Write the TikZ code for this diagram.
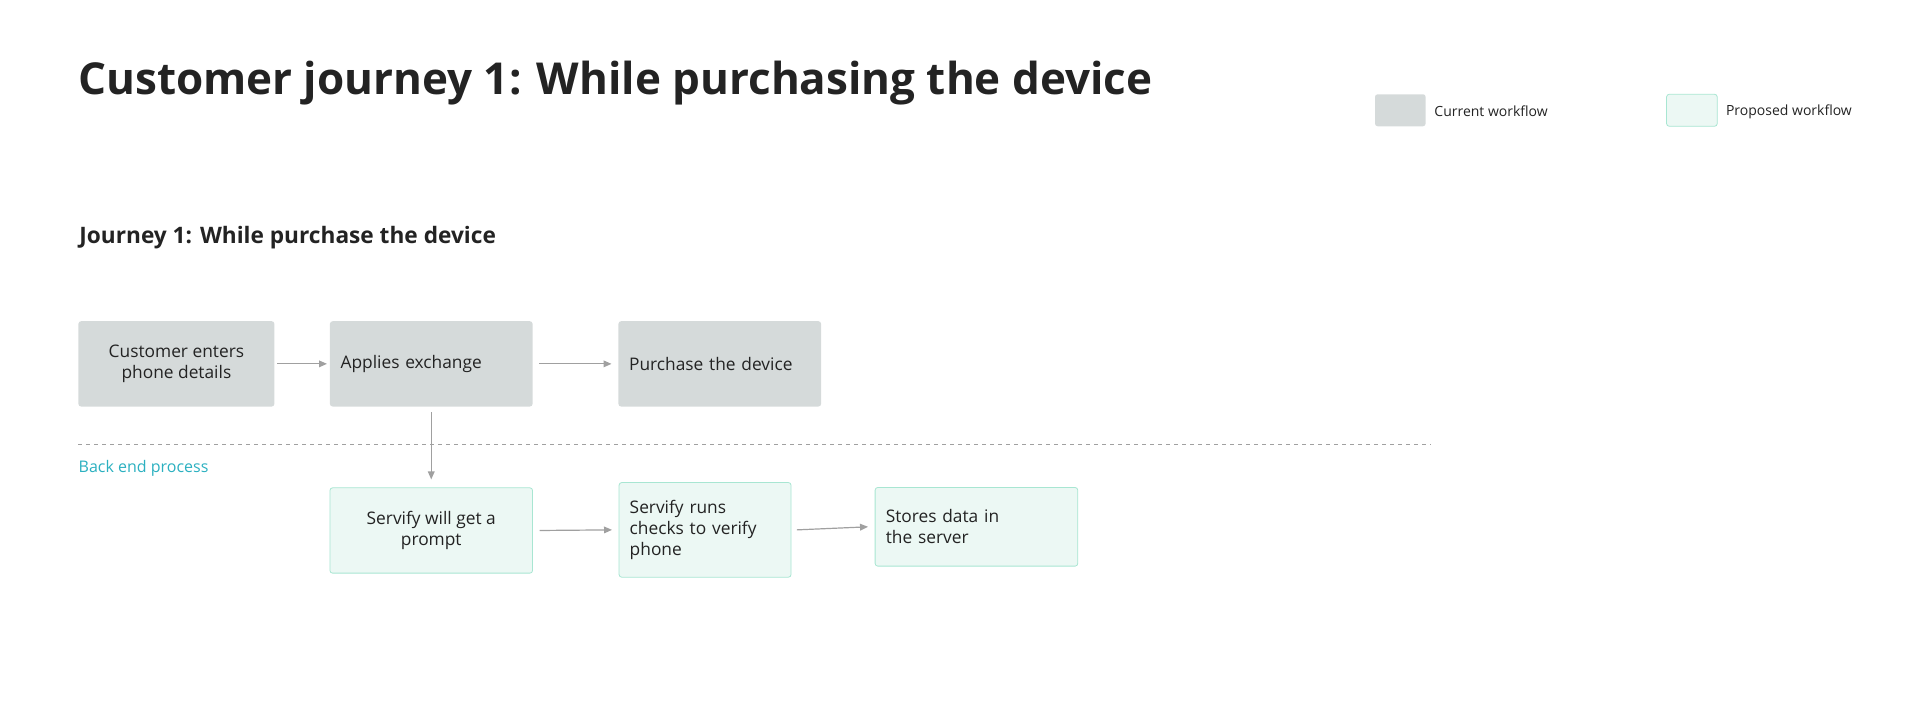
\documentclass[tikz,border=0pt]{standalone}
\usepackage{fontspec}
\setmainfont{Open Sans}
\usetikzlibrary{arrows.meta}
\definecolor{cur}{HTML}{D5DADA}
\definecolor{prop}{HTML}{ECF8F4}
\definecolor{propb}{HTML}{A8E6D2}
\definecolor{arr}{HTML}{A0A0A0}
\definecolor{teal}{HTML}{2BB0C0}
\definecolor{ink}{HTML}{232323}
\begin{document}
\begin{tikzpicture}[x=0.919pt,y=-0.919pt,
  box/.style={draw=none,fill=cur,rounded corners=2pt,font=\fontsize{13}{16}\selectfont,text=ink,inner sep=0pt},
  pbox/.style={fill=prop,draw=propb,line width=0.6pt,rounded corners=2pt,font=\fontsize{13}{16}\selectfont,text=ink,inner sep=0pt},
  ar/.style={draw=arr,line width=0.9pt,-{Triangle[length=6pt,width=5pt]}},
  leg/.style={font=\fontsize{10.5}{12}\selectfont,text=ink,anchor=west}]
\useasboundingbox (0,0) rectangle (1568,572);
\node[anchor=west,font=\fontsize{33}{38}\selectfont\bfseries,text=ink] (title) at (60,68) {Customer journey 1: While purchasing the device};
\node[anchor=west,font=\fontsize{17}{20}\selectfont\bfseries,text=ink] (sub) at (61,194) {Journey 1: While purchase the device};
% legend
\node[box,minimum width=38pt,minimum height=24pt] (lg1) at (1143,90) {};
\node[leg] (lt1) at (1167,91) {Current workflow};
\node[pbox,minimum width=38pt,minimum height=24pt] (lg2) at (1381,90) {};
\node[leg] (lt2) at (1405,91) {Proposed workflow};
% top boxes
\node[box,minimum width=147pt,minimum height=64pt,align=center] (a) at (144,297) {Customer enters\\phone details};
\node[box,minimum width=152pt,minimum height=64pt,text width=136pt,align=left] (b) at (352,297) {Applies exchange};
\node[box,minimum width=152pt,minimum height=64pt,text width=136pt,align=left] (c) at (587.5,297) {Purchase the device};
\draw[ar] (a.east) ++(2,0) -- ([xshift=-2pt]b.west);
\draw[ar] ([xshift=5pt]b.east) -- ([xshift=-5pt]c.west);
% dashed line
\coordinate (d1) at (64,363); \coordinate (d2) at (1168,363);
\draw[arr,dash pattern=on 3pt off 3pt,line width=0.6pt] (d1) -- (d2);
\node[anchor=west,font=\fontsize{12}{14}\selectfont,text=teal,inner sep=0pt] (be) at (64,382) {Back end process};
% bottom boxes
\node[pbox,minimum width=152pt,minimum height=64pt,align=center] (d) at (352,433) {Servify will get a\\prompt};
\node[pbox,minimum width=129pt,minimum height=71pt,text width=113pt,align=left] (e) at (575.5,432.5) {Servify runs\\checks to verify\\phone};
\node[pbox,minimum width=152pt,minimum height=59pt,text width=136pt,align=left] (f) at (797,430) {Stores data in\\the server};
\draw[ar] ([yshift=-4pt]b.south) -- ([yshift=6pt]d.north);
\draw[ar] ([xshift=5pt]d.east) -- ([xshift=-5pt]e.west);
\draw[ar] ([xshift=4pt]e.east) -- ([xshift=-5pt]f.west);
\end{tikzpicture}
\end{document}
